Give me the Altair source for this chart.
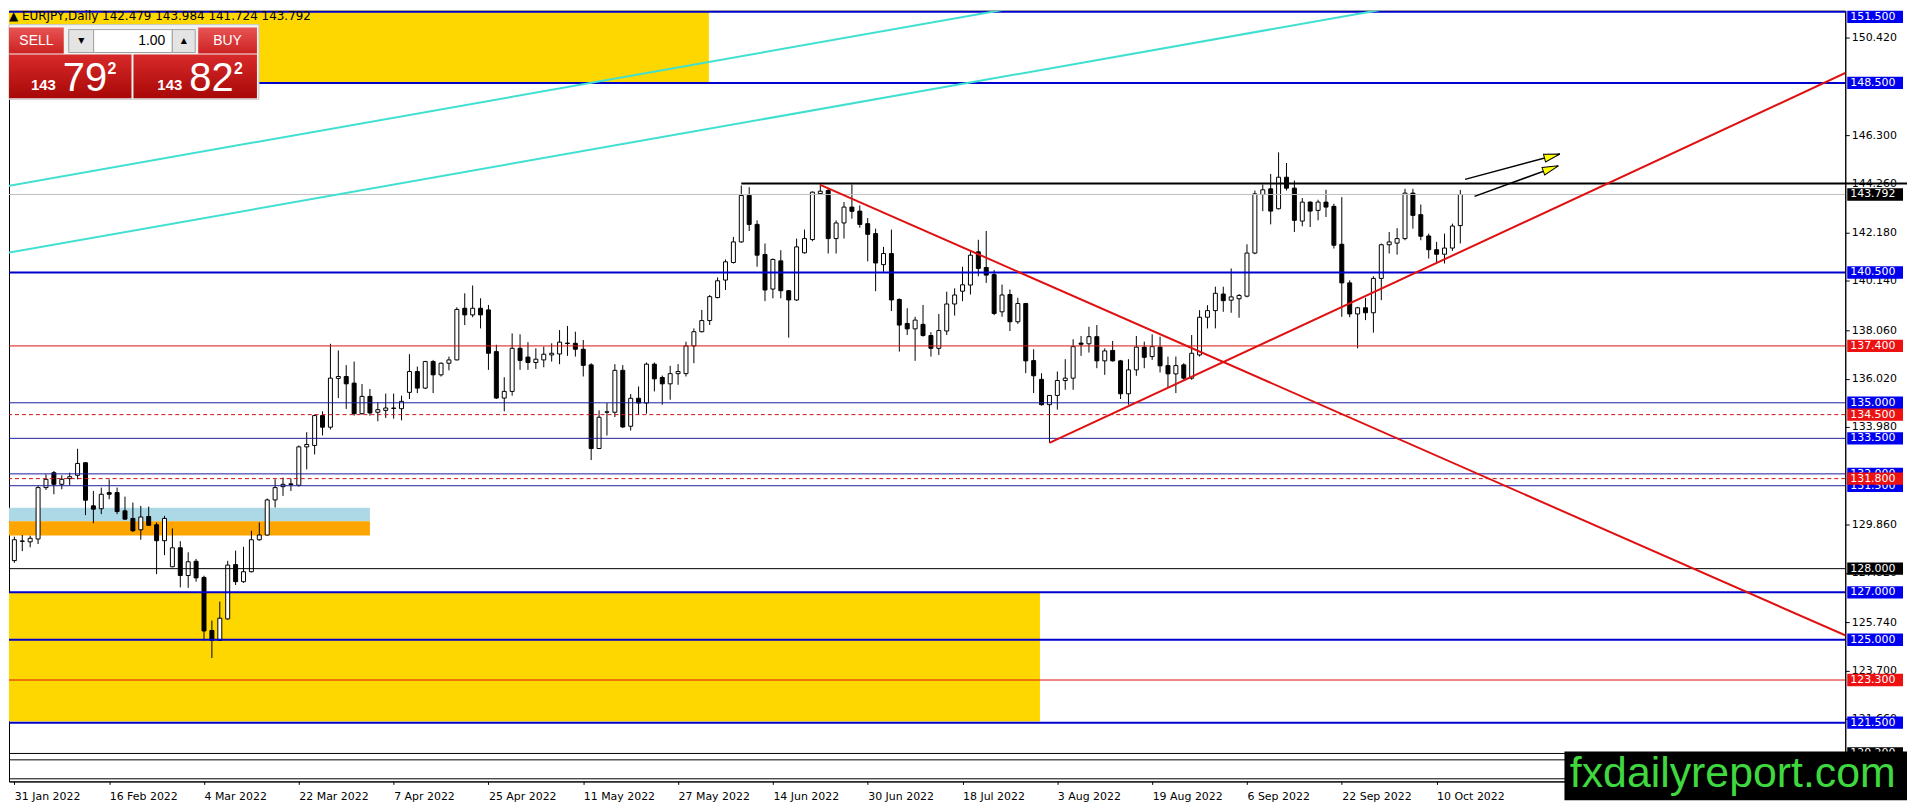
import math
import altair as alt
import pandas as pd

# ---------------- data ----------------
DATE_LABELS = ["31 Jan 2022", "16 Feb 2022", "4 Mar 2022", "22 Mar 2022", "7 Apr 2022",
               "25 Apr 2022", "11 May 2022", "27 May 2022", "14 Jun 2022", "30 Jun 2022",
               "18 Jul 2022", "3 Aug 2022", "19 Aug 2022", "6 Sep 2022", "22 Sep 2022",
               "10 Oct 2022"]
LABEL_EVERY = 12

OPEN = [128.34, 129.15, 129.13, 129.25, 131.42, 132.05, 131.56, 131.80, 131.94, 132.47,
        130.65, 130.53, 131.21, 131.21, 130.44, 130.12, 129.64, 130.20, 129.85, 129.18,
        128.08, 128.88, 127.71, 128.31, 127.63, 125.39, 124.97, 125.88, 128.17, 127.45,
        127.87, 129.22, 129.42, 130.90, 131.46, 131.55, 131.52, 133.14, 133.20, 134.46,
        133.97, 136.03, 136.11, 135.83, 134.54, 135.27, 134.60, 134.68, 134.76, 134.75,
        135.44, 136.32, 135.62, 136.74, 136.18, 136.67, 136.81, 138.99, 138.71, 138.99,
        138.92, 137.16, 135.20, 135.48, 137.30, 136.93, 136.70, 136.81, 137.02, 137.06,
        137.50, 137.51, 137.26, 136.60, 133.07, 134.60, 134.60, 136.37, 134.01, 135.19,
        134.99, 136.63, 136.07, 135.80, 136.23, 136.23, 137.40, 138.00, 138.47, 139.44,
        140.18, 140.92, 141.79, 143.75, 142.53, 141.26, 139.80, 140.99, 139.73, 139.34,
        141.33, 141.89, 143.83, 143.96, 141.93, 142.59, 143.26, 143.09, 142.56, 142.14,
        140.83, 141.30, 139.36, 138.35, 138.12, 138.31, 137.84, 137.30, 138.03, 139.17,
        139.71, 139.97, 141.37, 140.71, 140.41, 138.84, 139.57, 138.42, 139.19, 136.78,
        135.99, 134.92, 135.31, 135.94, 136.04, 137.52, 137.49, 137.79, 136.77, 137.21,
        136.77, 135.38, 136.39, 137.35, 136.95, 137.35, 136.57, 136.22, 136.60, 136.04,
        137.02, 138.61, 138.89, 139.59, 139.33, 139.39, 139.50, 141.32, 143.79, 144.03,
        143.19, 144.52, 144.06, 142.67, 143.47, 143.12, 143.47, 143.29, 141.69, 140.06,
        138.75, 139.01, 138.80, 140.25, 141.67, 141.74, 141.93, 143.85, 142.94, 142.04,
        141.46, 141.27, 141.53, 142.479]
HIGH = [129.35, 129.42, 129.39, 131.50, 131.98, 132.12, 131.94, 132.05, 133.06, 132.50,
        131.28, 131.42, 131.77, 131.42, 131.04, 130.79, 130.65, 130.62, 129.95, 130.23,
        129.70, 129.16, 128.69, 128.41, 127.70, 125.81, 126.61, 128.33, 128.76, 128.92,
        129.60, 129.95, 130.96, 131.77, 131.84, 131.80, 133.20, 133.76, 134.50, 134.64,
        137.49, 137.21, 136.59, 136.74, 135.79, 135.58, 135.02, 135.39, 135.39, 135.30,
        137.05, 136.53, 136.77, 136.81, 136.70, 136.95, 139.03, 139.62, 139.95, 139.41,
        139.13, 137.45, 136.08, 137.93, 137.89, 137.56, 137.30, 137.37, 137.51, 138.07,
        138.24, 138.00, 137.65, 136.67, 134.68, 134.99, 136.63, 136.59, 135.37, 135.69,
        136.70, 136.70, 136.15, 136.56, 136.63, 137.58, 138.14, 138.92, 139.55, 140.29,
        141.05, 142.00, 144.17, 144.10, 142.70, 141.72, 141.09, 141.44, 139.76, 141.93,
        142.31, 143.92, 144.26, 144.03, 142.70, 143.47, 144.21, 143.33, 142.80, 142.35,
        141.58, 142.31, 139.41, 138.99, 138.63, 139.13, 137.98, 138.75, 139.69, 139.83,
        140.74, 141.40, 141.88, 142.25, 140.60, 139.99, 139.78, 139.43, 139.22, 137.26,
        136.25, 135.31, 136.32, 136.84, 137.68, 137.82, 138.21, 138.28, 137.30, 137.61,
        136.81, 136.84, 137.82, 137.58, 137.89, 137.79, 136.95, 136.95, 136.67, 137.86,
        138.91, 139.12, 139.90, 139.90, 140.67, 139.59, 141.69, 143.96, 144.21, 144.66,
        145.57, 145.12, 144.38, 143.64, 143.50, 143.57, 143.99, 143.40, 143.68, 140.17,
        139.05, 139.43, 140.34, 141.72, 142.21, 142.37, 144.03, 144.03, 143.37, 142.14,
        141.79, 142.14, 142.56, 143.984]
LOW = [128.25, 128.74, 128.90, 129.04, 131.32, 131.14, 131.35, 131.52, 131.77, 130.26,
       129.92, 130.30, 130.93, 130.30, 130.07, 129.55, 129.22, 129.81, 127.77, 128.57,
       128.06, 127.21, 127.19, 127.45, 124.97, 124.23, 124.95, 125.84, 127.31, 127.40,
       127.84, 129.18, 129.40, 130.58, 131.07, 131.28, 131.46, 132.19, 132.82, 133.62,
       133.87, 135.20, 134.74, 134.46, 134.50, 134.46, 134.22, 134.36, 134.33, 134.26,
       135.16, 135.41, 135.58, 135.41, 136.11, 136.37, 136.79, 138.28, 138.61, 138.14,
       136.39, 135.16, 134.64, 135.30, 136.39, 136.39, 136.43, 136.50, 136.74, 136.63,
       136.98, 136.95, 136.11, 132.58, 133.05, 133.62, 134.40, 133.94, 133.83, 134.50,
       134.54, 135.48, 134.92, 135.13, 135.76, 136.11, 136.67, 137.97, 138.28, 139.41,
       139.76, 140.88, 141.75, 142.25, 140.74, 139.29, 139.41, 139.41, 137.75, 139.30,
       141.30, 141.82, 143.79, 141.30, 141.30, 141.93, 142.77, 142.39, 140.97, 139.71,
       140.53, 138.87, 137.16, 137.86, 136.77, 137.79, 136.95, 137.02, 137.86, 138.68,
       139.29, 139.57, 140.34, 140.06, 138.70, 138.63, 138.03, 138.33, 136.25, 135.41,
       134.88, 133.31, 134.71, 135.55, 135.55, 136.98, 137.12, 136.46, 136.18, 136.74,
       135.16, 134.92, 136.14, 136.46, 136.81, 136.28, 135.65, 135.41, 135.97, 135.97,
       136.95, 138.14, 138.14, 138.84, 138.80, 138.59, 139.45, 141.27, 143.09, 142.53,
       143.16, 143.96, 142.21, 142.45, 142.42, 142.70, 142.84, 141.51, 138.63, 138.61,
       137.30, 138.49, 137.96, 139.33, 141.30, 141.25, 141.86, 142.35, 141.86, 141.09,
       140.90, 140.88, 141.41, 141.724]
CLOSE = [129.22, 129.17, 129.28, 131.42, 131.77, 131.56, 131.77, 131.88, 132.44, 130.89,
         130.51, 131.14, 131.14, 130.41, 130.09, 129.60, 130.18, 129.83, 129.18, 130.12,
         128.88, 127.71, 128.29, 127.61, 125.37, 124.97, 125.91, 128.15, 127.45, 127.87,
         129.22, 129.42, 130.90, 131.42, 131.56, 131.58, 133.14, 133.24, 134.46, 133.97,
         136.04, 136.11, 135.80, 134.54, 135.27, 134.57, 134.71, 134.78, 134.78, 135.06,
         136.32, 135.62, 136.74, 136.18, 136.67, 136.81, 138.94, 138.71, 138.99, 138.71,
         137.09, 135.20, 135.48, 137.30, 136.79, 136.70, 136.84, 137.05, 137.09, 137.56,
         137.52, 137.26, 136.58, 133.07, 134.39, 134.62, 136.37, 133.98, 135.19, 134.99,
         136.63, 136.01, 135.80, 136.23, 136.32, 137.40, 138.00, 138.47, 139.48, 140.15,
         140.95, 141.79, 143.75, 142.53, 141.23, 139.76, 141.05, 139.73, 139.34, 141.58,
         141.93, 143.89, 143.93, 141.93, 142.59, 143.26, 143.08, 142.53, 142.11, 140.90,
         141.30, 139.34, 138.28, 138.12, 138.49, 137.84, 137.30, 138.05, 139.17, 139.55,
         139.98, 141.23, 140.67, 140.39, 138.77, 139.55, 138.42, 139.19, 136.77, 136.14,
         134.92, 135.31, 135.94, 136.04, 137.37, 137.47, 137.79, 136.77, 137.19, 136.77,
         135.38, 136.39, 137.35, 136.92, 137.37, 136.56, 136.22, 136.57, 136.04, 137.09,
         138.61, 138.89, 139.62, 139.31, 139.47, 139.53, 141.32, 143.82, 143.99, 143.09,
         144.52, 144.06, 142.70, 143.47, 143.09, 143.47, 143.26, 141.65, 140.06, 138.75,
         139.01, 138.80, 140.25, 141.67, 141.79, 141.93, 143.85, 142.91, 142.03, 141.46,
         141.27, 141.53, 142.46, 143.792]

# horizontal levels
BLUE_MAJOR = [151.5, 148.5, 140.5, 127.0, 125.0, 121.5]
BLUE_MINOR = [135.0, 133.5, 132.0, 131.5]
RED_SOLID = [137.4, 123.3]
RED_DASHED = [134.5, 131.8]
BLACK_LEVELS = [128.0, 120.2, 119.93, 119.13]
BLACK_LABELLED = [128.0, 120.2]          # the others' tags sit under the watermark
CURRENT_PRICE = 143.792
TOP_LEVEL = [144.26]
TOP_LEVEL_START = [92]

BID = 143.792
ASK = 143.822
LOT = "1.00"

# price-scale ticks that are not fully hidden behind level tags
Y_TICKS = [150.42, 146.30, 144.26, 142.18, 140.14, 138.06, 136.02, 133.98,
           129.86, 127.82, 125.74, 123.70, 121.66]

# rectangles (bar index / price)
ZONE_X0 = [-1, -1, -1, -1]
ZONE_X1 = [87.9, 129.8, 45.0, 45.0]
ZONE_Y0 = [148.5, 121.55, 130.0, 129.4]
ZONE_Y1 = [153.0, 127.0, 130.57, 130.0]
ZONE_KIND = ["gold", "gold", "lightblue", "orange"]

# trend lines (bar index / price anchors)
TREND_X0 = [-1, -1, 102, 131]
TREND_Y0 = [144.14, 141.32, 144.2, 133.31]
TREND_X1 = [240, 240, 240, 240]
TREND_Y1 = [158.36, 155.54, 123.97, 150.2]
TREND_KIND = ["channel", "channel", "down", "up"]

# arrows
ARROW_X0 = [183.6, 184.8]
ARROW_Y0 = [144.43, 143.71]
ARROW_X1 = [195.6, 195.4]
ARROW_Y1 = [145.50, 145.00]

# ---------------- layout ----------------
W, H = 1844, 774
XD = [-0.05, 231.09]
YD = [119.02, 151.55]
PX = W / (XD[1] - XD[0])
PY = H / (YD[1] - YD[0])
FONT = "DejaVu Sans"
TAG_HALF = 6.2 / PY

ZONE_COLORS = {"gold": "#FFD700", "lightblue": "#ADD8E6", "orange": "#FFA500"}
TREND_COLORS = {"channel": "#40E0D0", "down": "#E01010", "up": "#E01010"}

label_arr = "[" + ",".join("'%s'" % s for s in DATE_LABELS) + "]"
X_AXIS = alt.Axis(values=list(range(0, LABEL_EVERY * len(DATE_LABELS), LABEL_EVERY)),
                  labelExpr=label_arr + "[round(datum.value / %d)]" % LABEL_EVERY,
                  labelAlign="left", labelPadding=6, tickSize=3, tickColor="black",
                  domainColor="black", labelColor="black", labelFont=FONT,
                  labelFontSize=11, grid=False, labelOverlap=False, labelFlush=False,
                  title=None, orient="bottom")
Y_AXIS = alt.Axis(values=Y_TICKS, format=".3f", orient="right", tickSize=4,
                  labelPadding=2, tickColor="black", domainColor="black",
                  labelColor="black", labelFont=FONT, labelFontSize=11, grid=False,
                  labelOverlap=False, labelFlush=False, title=None)
XS = alt.Scale(domain=XD, nice=False, zero=False)
YS = alt.Scale(domain=YD, nice=False, zero=False)


def X(f):
    return alt.X(f + ":Q", scale=XS, axis=X_AXIS, title=None)


def Y(f):
    return alt.Y(f + ":Q", scale=YS, axis=Y_AXIS, title=None)


layers = []

# zones
zones = pd.DataFrame({"x0": ZONE_X0, "x1": ZONE_X1, "y0": ZONE_Y0, "y1": ZONE_Y1,
                      "kind": ZONE_KIND})
for kind, col in ZONE_COLORS.items():
    layers.append(alt.Chart(zones[zones.kind == kind]).mark_rect(color=col, clip=True).encode(
        x=X("x0"), x2=alt.X2("x1"), y=Y("y0"), y2=alt.Y2("y1")))

# candles
candles = pd.DataFrame({"i": list(range(len(OPEN))), "o": OPEN, "h": HIGH, "l": LOW,
                        "c": CLOSE})
layers.append(alt.Chart(candles).mark_rule(color="black", strokeWidth=1, clip=True).encode(
    x=X("i"), y=Y("l"), y2=alt.Y2("h")))
layers.append(alt.Chart(candles).transform_calculate(
    lo="min(datum.o, datum.c)", hi="max(datum.o, datum.c)"
).mark_bar(size=4, stroke="black", strokeWidth=1, clip=True).encode(
    x=X("i"), y=Y("lo"), y2=alt.Y2("hi"),
    fill=alt.condition("datum.c >= datum.o", alt.value("#FFFFFF"), alt.value("#000000"))))


def hlines(vals, color, width, dash=None):
    kw = dict(color=color, strokeWidth=width, clip=True)
    if dash:
        kw["strokeDash"] = dash
    return alt.Chart(pd.DataFrame({"p": vals})).mark_rule(**kw).encode(y=Y("p"))


layers.append(hlines([CURRENT_PRICE], "#C0C0C0", 1))
layers.append(hlines(BLUE_MAJOR, "#0000CD", 2))
layers.append(hlines(BLUE_MINOR, "#1C1CA0", 1))
layers.append(hlines(RED_SOLID, "#DD1111", 1))
layers.append(hlines(RED_DASHED, "#CC1111", 1, [4, 3]))
layers.append(hlines(BLACK_LEVELS, "#000000", 1))

# 144.26 black level starting at the June high, running into the price scale
layers.append(alt.Chart(pd.DataFrame({"x0": TOP_LEVEL_START, "p": TOP_LEVEL})).mark_rule(
    color="black", strokeWidth=2, clip=False).encode(
    x=X("x0"), x2=alt.value(W + 62), y=Y("p")))

# trend lines
trends = pd.DataFrame({"x0": TREND_X0, "y0": TREND_Y0, "x1": TREND_X1, "y1": TREND_Y1,
                       "kind": TREND_KIND})
for kind in ["channel", "down", "up"]:
    layers.append(alt.Chart(trends[trends.kind == kind]).mark_rule(
        color=TREND_COLORS[kind], strokeWidth=2, clip=True).encode(
        x=X("x0"), x2=alt.X2("x1"), y=Y("y0"), y2=alt.Y2("y1")))

# arrows
heads_x, heads_y, heads_a = [], [], []
for x0, y0, x1, y1 in zip(ARROW_X0, ARROW_Y0, ARROW_X1, ARROW_Y1):
    dxp, dyp = (x1 - x0) * PX, (y1 - y0) * PY
    L = math.hypot(dxp, dyp)
    heads_x.append(x1 - 8 * dxp / L / PX)
    heads_y.append(y1 - 8 * dyp / L / PY)
    heads_a.append((-math.degrees(math.atan2(dyp, dxp))) % 360)
arrows = pd.DataFrame({"x0": ARROW_X0, "y0": ARROW_Y0, "x1": ARROW_X1, "y1": ARROW_Y1})
layers.append(alt.Chart(arrows).mark_rule(color="black", strokeWidth=1.5, clip=True).encode(
    x=X("x0"), x2=alt.X2("x1"), y=Y("y0"), y2=alt.Y2("y1")))
heads = pd.DataFrame({"x": heads_x, "y": heads_y, "ang": heads_a})
layers.append(alt.Chart(heads).mark_point(
    shape="M -1 -0.5 L 1 0 L -1 0.5 Z", size=256, filled=True, fill="#FFFF00",
    stroke="black", strokeWidth=1, opacity=1, clip=True).encode(
    x=X("x"), y=Y("y"), angle=alt.Angle("ang:Q", scale=None)))


# price-scale tags (kept inside the top edge of the chart)
def label_boxes(vals, bg):
    d = pd.DataFrame({"p": vals})
    base = alt.Chart(d).transform_calculate(
        pc="min(datum.p, %f)" % (YD[1] - TAG_HALF)
    ).transform_calculate(
        lo="datum.pc - %f" % TAG_HALF, hi="datum.pc + %f" % TAG_HALF
    )
    box = base.mark_rect(color=bg, clip=False).encode(
        x=alt.value(W + 2), x2=alt.value(W + 58), y=Y("lo"), y2=alt.Y2("hi"))
    txt = base.mark_text(color="white", font=FONT, fontSize=11, align="left",
                         baseline="middle", clip=False).encode(
        x=alt.value(W + 5), y=Y("pc"), text=alt.Text("p:Q", format=".3f"))
    return [box, txt]


layers += label_boxes(BLUE_MAJOR + BLUE_MINOR, "#0000F0")
layers += label_boxes(BLACK_LABELLED + [CURRENT_PRICE], "#000000")
layers += label_boxes(RED_SOLID + RED_DASHED, "#EE1111")

# ---------------- terminal chrome ----------------
one = pd.DataFrame({"a": [0]})


def box(x0, x1, y0, y1, **kw):
    return alt.Chart(one).mark_rect(**kw).encode(
        x=alt.value(x0), x2=alt.value(x1), y=alt.value(y0), y2=alt.value(y1))


def label(x, y, text, **kw):
    return alt.Chart(one).mark_text(text=text, **kw).encode(x=alt.value(x), y=alt.value(y))


header = "\u25B2 EURJPY,Daily  %.3f %.3f %.3f %.3f" % (OPEN[-1], HIGH[-1], LOW[-1], CLOSE[-1])
layers.append(label(0, 0, header, font=FONT, fontSize=12, color="black", align="left",
                    baseline="top"))

btn_grad = alt.Gradient(gradient="linear", x1=0, x2=0, y1=0, y2=1,
                        stops=[alt.GradientStop(color="#E85454", offset=0),
                               alt.GradientStop(color="#CC2222", offset=1)])
big_grad = alt.Gradient(gradient="linear", x1=0, x2=0, y1=0, y2=1,
                        stops=[alt.GradientStop(color="#D82A2A", offset=0),
                               alt.GradientStop(color="#A80808", offset=1)])
layers.append(box(0, 251, 14, 89, fill="#F2F2F2", stroke="#C8C8C8", strokeWidth=1))
layers.append(box(0, 55, 17, 43, fill=btn_grad))
layers.append(box(190, 249, 17, 43, fill=btn_grad))
layers.append(box(60, 85, 19, 42, fill="#E4E4E4", stroke="#A0A0A0", strokeWidth=1))
layers.append(box(85, 164, 19, 42, fill="#FFFFFF", stroke="#A0A0A0", strokeWidth=1))
layers.append(box(164, 187, 19, 42, fill="#E4E4E4", stroke="#A0A0A0", strokeWidth=1))
layers.append(box(0, 123, 44, 88, fill=big_grad))
layers.append(box(125, 249, 44, 88, fill=big_grad))
layers.append(label(27.5, 30, "SELL", font="Liberation Sans", fontSize=14, color="white",
                    align="center", baseline="middle"))
layers.append(label(219.5, 30, "BUY", font="Liberation Sans", fontSize=14, color="white",
                    align="center", baseline="middle"))
layers.append(label(72.5, 30, "\u25BC", font=FONT, fontSize=8, color="black",
                    align="center", baseline="middle"))
layers.append(label(175.5, 30, "\u25B2", font=FONT, fontSize=8, color="black",
                    align="center", baseline="middle"))
layers.append(label(157, 30, LOT, font="Liberation Sans", fontSize=14, color="black",
                    align="right", baseline="middle"))

for px0, price in ((22, BID), (149, ASK)):
    s = "%.3f" % price
    big, pip, frac = s.split(".")[0], s.split(".")[1][:2], s.split(".")[1][2:]
    layers.append(label(px0, 80, big, font="Liberation Sans", fontSize=15,
                        fontWeight="bold", color="white", align="left",
                        baseline="alphabetic"))
    layers.append(label(px0 + 32, 81, pip, font="Liberation Sans Narrow, Liberation Sans",
                        fontSize=40, color="white", align="left", baseline="alphabetic"))
    layers.append(label(px0 + 77, 64, frac, font="Liberation Sans", fontSize=16,
                        fontWeight="bold", color="white", align="left",
                        baseline="alphabetic"))

# watermark
layers.append(box(1562, 1906, 744, 793, fill="#000000"))
layers.append(label(1731, 780, "fxdailyreport.com", font="Liberation Sans", fontSize=43,
                    color="#3FD83F", align="center", baseline="alphabetic"))

chart = alt.layer(*layers).properties(
    width=W, height=H, padding=0, background="white"
).configure_view(stroke="black", strokeWidth=1)

chart.save("out.html", embed_options={"renderer": "svg", "actions": False})
